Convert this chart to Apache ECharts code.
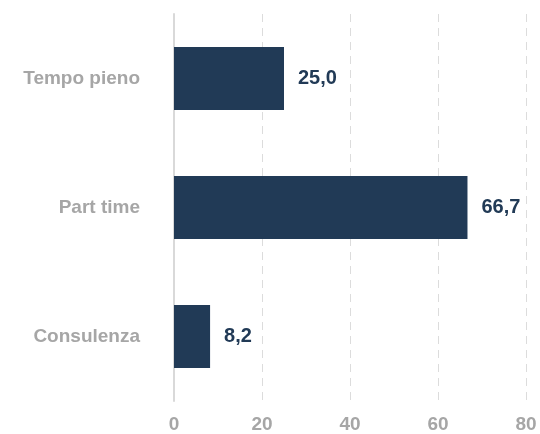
<!DOCTYPE html>
<html><head><meta charset="utf-8">
<script src="https://cdn.jsdelivr.net/npm/echarts@6/dist/echarts.min.js"></script>
<style>html,body{margin:0;padding:0;background:#fff}#c{width:540px;height:434px}</style>
</head><body><div id="c"></div>
<script>
const categories = ['Tempo pieno', 'Part time', 'Consulenza'];
const values = [25.0, 66.7, 8.2];
const tickMin = 0, tickMax = 80, tickStep = 20;

const chart = echarts.init(document.getElementById('c'), null, {renderer: 'canvas'});
chart.setOption({
  animation: false,
  backgroundColor: '#ffffff',
  grid: {left: 174, right: 14, top: 14, bottom: 33, containLabel: false},
  xAxis: {
    type: 'value', min: tickMin, max: tickMax, interval: tickStep,
    axisLine: {show: false}, axisTick: {show: false},
    splitLine: {show: true, lineStyle: {color: '#dcdcdc', type: [8, 6], width: 1}},
    axisLabel: {color: '#a6a6a6', fontSize: 19, fontWeight: 'bold', fontFamily: 'Liberation Sans, Arial, sans-serif', margin: 14,
      formatter: v => String(v)}
  },
  yAxis: {
    type: 'category', data: categories, inverse: true,
    axisLine: {show: true, lineStyle: {color: '#d9d9d9', width: 2}},
    axisTick: {show: false},
    splitLine: {show: false},
    axisLabel: {color: '#a6a6a6', fontSize: 19, fontWeight: 'bold', fontFamily: 'Liberation Sans, Arial, sans-serif', margin: 34}
  },
  series: [{
    type: 'bar', data: values, barWidth: '49%',
    itemStyle: {color: '#213a56'},
    label: {show: true, position: 'right', distance: 14, color: '#213a56', fontSize: 20, fontWeight: 'bold',
      fontFamily: 'Liberation Sans, Arial, sans-serif',
      formatter: p => p.value.toFixed(1).replace('.', ',')}
  }]
});
</script></body></html>
